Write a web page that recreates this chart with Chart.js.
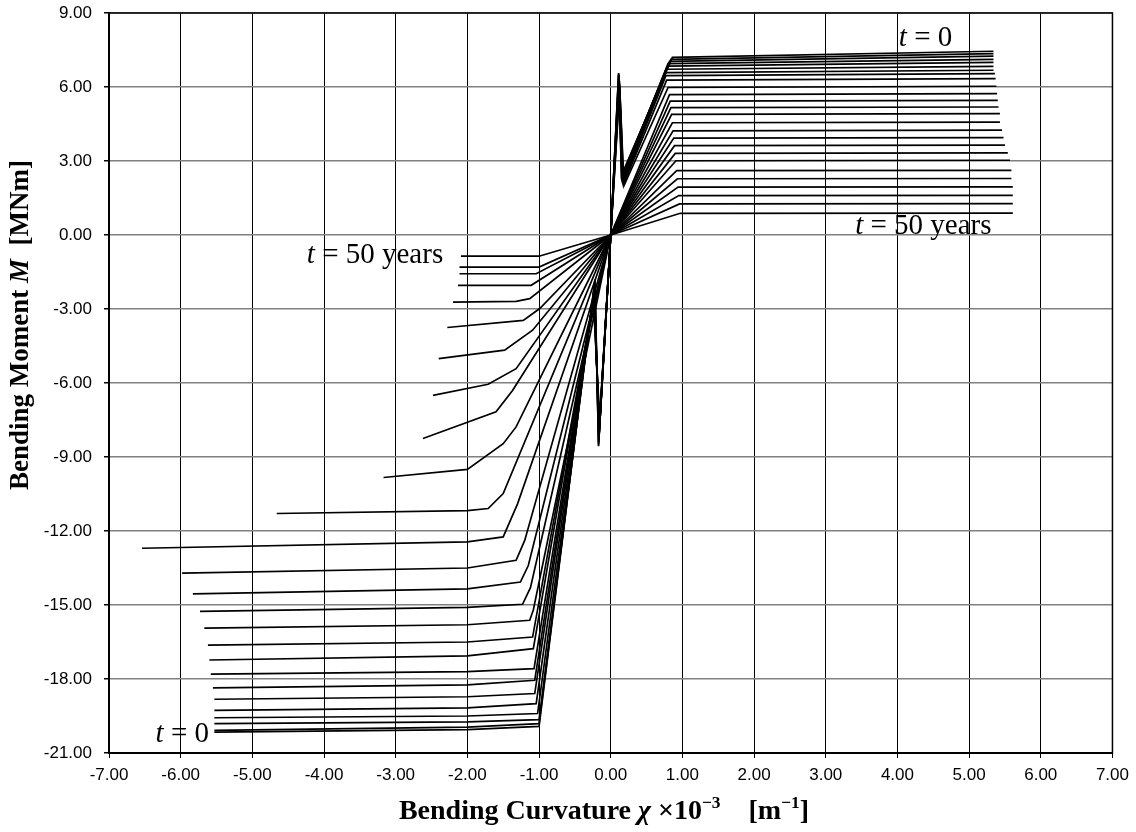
<!DOCTYPE html>
<html>
<head>
<meta charset="utf-8">
<script src="https://cdn.jsdelivr.net/npm/chart.js@4.4.1/dist/chart.umd.min.js"></script>
<style>
  html, body { margin: 0; padding: 0; background: #fff; }
  #wrap { width: 1136px; height: 832px; }
</style>
</head>
<body>
<div id="wrap"><canvas id="chart" width="1136" height="832"></canvas></div>
<script>
// One curve per time step, index 0 = t = 0 ... index 25 = t = 50 years
// Negative branch: far end of the plateau, end of the plateau (knee), start of the straight run to the origin
const negEndX  = [-5.53, -5.53, -5.53, -5.53, -5.53, -5.53, -5.55, -5.58, -5.60, -5.62, -5.67, -5.73, -5.83, -5.98, -6.54, -4.66, -3.17, -2.62, -2.48, -2.40, -2.28, -2.20, -2.13, -2.11, -2.11, -2.09];
const negEndM  = [-20.15, -20.08, -19.81, -19.57, -19.27, -18.82, -18.36, -17.80, -17.23, -16.63, -15.94, -15.26, -14.55, -13.71, -12.70, -11.29, -9.83, -8.25, -6.50, -5.01, -3.75, -2.72, -2.04, -1.57, -1.30, -0.86];
// plateau value read at curvature -2.0
const negMidM  = [-20.05, -19.95, -19.74, -19.50, -19.17, -18.72, -18.24, -17.70, -17.06, -16.50, -15.80, -15.10, -14.35, -13.50, -12.44, -11.17, -9.50, null, null, null, null, null, null, null, null, null];
const negKneeX = [-1.00, -1.00, -1.00, -1.02, -1.04, -1.06, -1.06, -1.07, -1.08, -1.09, -1.13, -1.23, -1.26, -1.32, -1.50, -1.71, -1.50, -1.60, -1.71, -1.48, -1.22, -1.32, -1.11, -1.04, -1.00, -1.00];
const negKneeM = [-19.92, -19.81, -19.65, -19.40, -19.00, -18.59, -18.05, -17.58, -16.77, -16.30, -15.62, -14.97, -14.07, -13.19, -12.24, -11.09, -8.46, -7.17, -6.05, -4.67, -3.46, -2.69, -2.04, -1.57, -1.30, -0.86];
const negExitX = [null, null, null, null, null, null, null, null, null, null, -1.08, -1.12, -1.15, -1.20, -1.30, -1.50, -1.32, -1.37, -1.32, -1.09, -0.99, -1.13, null, null, null, null];
const negExitM = [null, null, null, null, null, null, null, null, null, null, -15.20, -14.30, -13.40, -12.38, -10.90, -10.48, -7.78, -6.30, -5.42, -3.86, -2.98, -2.58, null, null, null, null];

// Positive branch: knee and far end of the plateau
const posKneeX = [0.86, 0.84, 0.82, 0.80, 0.79, 0.78, 0.77, 0.77, 0.78, 0.80, 0.82, 0.83, 0.84, 0.85, 0.86, 0.87, 0.88, 0.89, 0.90, 0.91, 0.92, 0.93, 0.94, 0.95, 0.96, 0.97];
const posKneeM = [7.20, 7.12, 7.04, 6.95, 6.85, 6.72, 6.58, 6.46, 6.28, 5.98, 5.69, 5.43, 5.16, 4.89, 4.55, 4.22, 3.93, 3.62, 3.31, 3.01, 2.61, 2.28, 1.94, 1.60, 1.26, 0.88];
const posEndX  = [5.34, 5.34, 5.34, 5.34, 5.34, 5.34, 5.34, 5.36, 5.37, 5.38, 5.39, 5.40, 5.41, 5.43, 5.43, 5.46, 5.48, 5.50, 5.54, 5.57, 5.59, 5.59, 5.61, 5.61, 5.61, 5.61];
const posEndM  = [7.45, 7.35, 7.25, 7.12, 7.00, 6.84, 6.68, 6.54, 6.34, 6.03, 5.73, 5.46, 5.19, 4.92, 4.58, 4.25, 3.95, 3.64, 3.33, 3.03, 2.62, 2.29, 1.95, 1.61, 1.27, 0.89];

// Cracking spikes near the origin (only the early curves have them)
const posTipX = [0.110, 0.110, 0.112, 0.114, 0.116, 0.118, 0.120, 0.122, 0.124, 0.126];
const posTipM = [6.57, 6.54, 6.50, 6.45, 6.40, 6.33, 6.25, 6.15, 6.05, 5.95];
const posDipX = [0.150, 0.152, 0.155, 0.158, 0.162, 0.166, 0.170, 0.175, 0.180, 0.185];
const posDipM = [2.42, 2.38, 2.34, 2.30, 2.26, 2.22, 2.18, 2.12, 2.06, 2.00];
const negTipX = [-0.170, -0.170, -0.168, -0.166, -0.164, -0.162, -0.160, -0.158, -0.156, -0.154];
const negTipM = [-8.56, -8.50, -8.40, -8.30, -8.18, -8.05, -7.90, -7.75, -7.60, -7.45];
const negDipX = [-0.220, -0.222, -0.224, -0.226, -0.228, -0.230, -0.233, -0.236, -0.239, -0.242];
const negDipM = [-1.80, -1.90, -2.00, -2.10, -2.20, -2.30, -2.40, -2.50, -2.60, -2.70];

// Text notes on the plot
const noteText = ['0', '50 years', '50 years', '0'];
const noteX = [4.02, 3.41, -4.24, -6.35];
const noteM = [7.65, 0.03, -1.15, -20.56];

// Axis ticks
const xTickStep = 1;
const yTickStep = 3;

// Build the polyline of one curve, from the negative end through the origin to the positive end
function curvePoints(i) {
    const pts = [];
    pts.push({ x: negEndX[i], y: negEndM[i] });
    if (negMidM[i] !== null) {
        pts.push({ x: -2.0, y: negMidM[i] });
    }
    pts.push({ x: negKneeX[i], y: negKneeM[i] });
    if (negExitX[i] !== null) {
        pts.push({ x: negExitX[i], y: negExitM[i] });
    }
    if (i < negTipX.length) {
        pts.push({ x: negDipX[i], y: negDipM[i] });
        pts.push({ x: negTipX[i], y: negTipM[i] });
    }
    pts.push({ x: 0, y: 0 });
    if (i < posTipX.length) {
        pts.push({ x: posTipX[i], y: posTipM[i] });
        pts.push({ x: posDipX[i], y: posDipM[i] });
    }
    pts.push({ x: posKneeX[i], y: posKneeM[i] });
    pts.push({ x: posEndX[i], y: posEndM[i] });
    return pts;
}

const datasets = negEndX.map((_, i) => ({
    data: curvePoints(i),
    showLine: true,
    borderColor: '#000',
    borderWidth: 1.7,
    pointRadius: 0,
    tension: 0,
    fill: false
}));

// Draw a run of text pieces with their own styles, starting at x
function drawParts(ctx, parts, x, y, size) {
    let cx = x;
    parts.forEach(p => {
        const fs = p.sup ? size * 0.62 : size;
        ctx.font = `${p.style || ''} ${fs}px "Liberation Serif"`;
        ctx.fillText(p.text, cx, p.sup ? y - size * 0.4 : y);
        cx += ctx.measureText(p.text).width;
    });
}

function partsWidth(ctx, parts, size) {
    let w = 0;
    parts.forEach(p => {
        const fs = p.sup ? size * 0.62 : size;
        ctx.font = `${p.style || ''} ${fs}px "Liberation Serif"`;
        w += ctx.measureText(p.text).width;
    });
    return w;
}

const xTitle = [
    { text: 'Bending Curvature ', style: 'bold' },
    { text: 'χ', style: 'italic bold' },
    { text: ' ×10', style: 'bold' },
    { text: '−3', style: 'bold', sup: true },
    { text: '    [m', style: 'bold' },
    { text: '−1', style: 'bold', sup: true },
    { text: ']', style: 'bold' }
];
const yTitle = [
    { text: 'Bending Moment ', style: 'bold' },
    { text: 'M', style: 'italic bold' },
    { text: '  [MNm]', style: 'bold' }
];

// Frame, axis titles and the t labels
const decorations = {
    id: 'decorations',
    afterDraw(chart) {
        const ctx = chart.ctx;
        const area = chart.chartArea;
        const xs = chart.scales.x;
        const ys = chart.scales.y;
        ctx.save();

        // black frame round the plot
        ctx.strokeStyle = '#000';
        ctx.lineWidth = 1.5;
        ctx.strokeRect(area.left, area.top, area.right - area.left, area.bottom - area.top);

        ctx.fillStyle = '#000';
        ctx.textBaseline = 'alphabetic';
        ctx.textAlign = 'left';

        // x axis title
        const xs0 = 28;
        const xw = partsWidth(ctx, xTitle, xs0);
        drawParts(ctx, xTitle, 604 - xw / 2, 819, xs0);

        // y axis title, rotated
        const ys0 = 27;
        const yw = partsWidth(ctx, yTitle, ys0);
        ctx.save();
        ctx.translate(28, 325);
        ctx.rotate(-Math.PI / 2);
        drawParts(ctx, yTitle, -yw / 2, 0, ys0);
        ctx.restore();

        // t = ... notes
        noteText.forEach((txt, i) => {
            const px = xs.getPixelForValue(noteX[i]);
            const py = ys.getPixelForValue(noteM[i]);
            drawParts(ctx, [
                { text: 't', style: 'italic' },
                { text: ' = ' + txt, style: '' }
            ], px, py, 29);
        });

        ctx.restore();
    }
};

const ctx = document.getElementById('chart').getContext('2d');
const chart = new Chart(ctx, {
    type: 'scatter',
    data: { datasets: datasets },
    options: {
        responsive: false,
        animation: false,
        devicePixelRatio: 1,
        layout: { padding: { left: 0, right: 22, top: 13, bottom: 0 } },
        plugins: {
            legend: { display: false },
            tooltip: { enabled: false }
        },
        scales: {
            x: {
                type: 'linear',
                min: -7,
                max: 7,
                afterFit: s => { s.height = 79; },
                ticks: {
                    stepSize: xTickStep,
                    autoSkip: false,
                    maxRotation: 0,
                    padding: 7,
                    color: '#000',
                    font: { family: 'Liberation Sans', size: 17 },
                    callback: v => v.toFixed(2)
                },
                grid: { color: '#000', lineWidth: 1, tickLength: 5, tickColor: '#000' },
                border: { color: '#000', width: 2 }
            },
            y: {
                type: 'linear',
                min: -21,
                max: 9,
                afterFit: s => { s.width = 109; s.paddingTop = 0; s.paddingBottom = 0; },
                ticks: {
                    stepSize: yTickStep,
                    padding: 12,
                    color: '#000',
                    font: { family: 'Liberation Sans', size: 17 },
                    callback: v => v.toFixed(2)
                },
                grid: { color: '#808080', lineWidth: 1.5, tickLength: 5, tickColor: '#000' },
                border: { color: '#000', width: 2 }
            }
        }
    },
    plugins: [decorations]
});
</script>
</body>
</html>
